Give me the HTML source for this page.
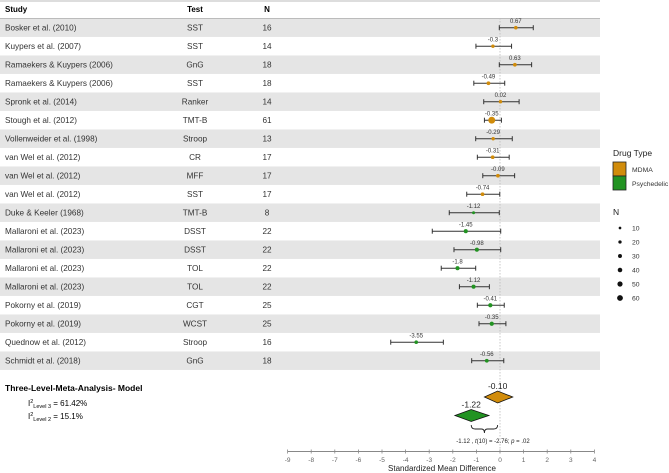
<!DOCTYPE html>
<html><head><meta charset="utf-8"><style>
html,body{margin:0;padding:0;background:#fff}
svg{display:block;font-family:"Liberation Sans",Arial,sans-serif}
</style></head><body>
<svg id="chart" width="669" height="473" viewBox="0 0 669 473">
<g id="bands"></g>
<line x1="0" y1="1" x2="600" y2="1" stroke="#bbb" stroke-width="1"/>
<line x1="0" y1="18.5" x2="600" y2="18.5" stroke="#bbb" stroke-width="1"/>
<text x="5" y="12" font-size="8" font-weight="bold">Study</text>
<text x="195" y="12" font-size="8" font-weight="bold" text-anchor="middle">Test</text>
<text x="267" y="12" font-size="8" font-weight="bold" text-anchor="middle">N</text>
<g id="rows"></g>
<line id="zeroline" y1="18" y2="450" stroke="#bbb" stroke-width="0.8" stroke-dasharray="1.5,1.5"/>
<g id="marks"></g>
<g id="axis"></g>
<text x="442" y="471" font-size="8" text-anchor="middle" fill="#222">Standardized Mean Difference</text>
<text x="5" y="391" font-size="8.5" font-weight="bold">Three-Level-Meta-Analysis- Model</text>
<text x="28" y="406" font-size="8">I<tspan dy="-3" font-size="5.5">2</tspan><tspan dy="5" font-size="5.5">Level 3</tspan><tspan dy="-2"> = 61.42%</tspan></text>
<text x="28" y="419" font-size="8">I<tspan dy="-3" font-size="5.5">2</tspan><tspan dy="5" font-size="5.5">Level 2</tspan><tspan dy="-2"> = 15.1%</tspan></text>
<g id="pooled"></g>
<text x="613" y="156" font-size="8.5" fill="#222">Drug Type</text>
<rect x="613" y="162" width="13" height="14" fill="#D18C0B" stroke="#222" stroke-width="0.8"/>
<rect x="613" y="176" width="13" height="14" fill="#229322" stroke="#222" stroke-width="0.8"/>
<text x="632" y="172" font-size="6.8" fill="#333">MDMA</text>
<text x="632" y="186" font-size="6.8" fill="#333">Psychedelic</text>
<text x="613" y="215" font-size="8.5" fill="#222">N</text>
<g id="nlegend"></g>
</svg>
<script>
const studies=["Bosker et al. (2010)","Kuypers et al. (2007)","Ramaekers & Kuypers (2006)","Ramaekers & Kuypers (2006)","Spronk et al. (2014)","Stough et al. (2012)","Vollenweider et al. (1998)","van Wel et al. (2012)","van Wel et al. (2012)","van Wel et al. (2012)","Duke & Keeler (1968)","Mallaroni et al. (2023)","Mallaroni et al. (2023)","Mallaroni et al. (2023)","Mallaroni et al. (2023)","Pokorny et al. (2019)","Pokorny et al. (2019)","Quednow et al. (2012)","Schmidt et al. (2018)"];
const tests=["SST","SST","GnG","SST","Ranker","TMT-B","Stroop","CR","MFF","SST","TMT-B","DSST","DSST","TOL","TOL","CGT","WCST","Stroop","GnG"];
const ns=[16,14,18,18,14,61,13,17,17,17,8,22,22,22,22,25,25,16,18];
const smd=[0.67,-0.3,0.63,-0.49,0.02,-0.35,-0.29,-0.31,-0.09,-0.74,-1.12,-1.45,-0.98,-1.8,-1.12,-0.41,-0.35,-3.55,-0.56];
const ciLow=[-0.03,-1.02,-0.03,-1.11,-0.69,-0.66,-1.03,-0.96,-0.73,-1.41,-2.15,-2.87,-1.95,-2.49,-1.72,-0.96,-0.89,-4.63,-1.2];
const ciHigh=[1.41,0.49,1.34,0.2,0.81,0.06,0.52,0.39,0.62,-0.01,-0.03,0.03,0.03,-1.03,-0.45,0.18,0.25,-2.4,0.16];
const drug=["MDMA","MDMA","MDMA","MDMA","MDMA","MDMA","MDMA","MDMA","MDMA","MDMA","Psychedelic","Psychedelic","Psychedelic","Psychedelic","Psychedelic","Psychedelic","Psychedelic","Psychedelic","Psychedelic"];
const pooledGroups=["MDMA","Psychedelic"];
const pooledEst=[-0.10,-1.22];
const pooledLow=[-0.66,-1.91];
const pooledHigh=[0.54,-0.47];
const xTicks=[-9,-8,-7,-6,-5,-4,-3,-2,-1,0,1,2,3,4];
const nLegend=[10,20,30,40,50,60];

const NS="http://www.w3.org/2000/svg";
const colors={MDMA:"#D18C0B",Psychedelic:"#229322"};
const x=v=>500+(v)*23.6;
const rowY=i=>27.7+i*18.5;
const r=n=>1.2+0.037*n;
function mk(tag,attrs,parent,txt){const e=document.createElementNS(NS,tag);for(const k in attrs)e.setAttribute(k,attrs[k]);if(txt!==undefined)e.textContent=txt;parent.appendChild(e);return e;}
const bands=document.getElementById('bands'),rows=document.getElementById('rows'),marks=document.getElementById('marks'),axis=document.getElementById('axis'),pooled=document.getElementById('pooled'),nleg=document.getElementById('nlegend');
document.getElementById('zeroline').setAttribute('x1',x(0));
document.getElementById('zeroline').setAttribute('x2',x(0));
studies.forEach((s,i)=>{
  const y=rowY(i);
  if(i%2===0){const b=mk('rect',{x:0,y:y-9.25,width:600,height:18.5,fill:'#e5e5e5'},bands);
    
    }
  const t1=mk('text',{x:5,y:y+3,'font-size':8.2,fill:'#333'},rows,s);
  
  
  const t2=mk('text',{x:195,y:y+3,'font-size':8.2,fill:'#333','text-anchor':'middle'},rows,tests[i]);
  
  
  const t3=mk('text',{x:267,y:y+3,'font-size':8.2,fill:'#333','text-anchor':'middle'},rows,ns[i]);
  
  
  const g=mk('g',{},marks);
  
  
  mk('line',{x1:x(ciLow[i]),x2:x(ciHigh[i]),y1:y,y2:y,stroke:'#333','stroke-width':1},g);
  mk('line',{x1:x(ciLow[i]),x2:x(ciLow[i]),y1:y-2.5,y2:y+2.5,stroke:'#333','stroke-width':1},g);
  mk('line',{x1:x(ciHigh[i]),x2:x(ciHigh[i]),y1:y-2.5,y2:y+2.5,stroke:'#333','stroke-width':1},g);
  mk('circle',{cx:x(smd[i]),cy:y,r:r(ns[i]),fill:colors[drug[i]]},g);
  mk('text',{x:x(smd[i]),y:y-4.5,'font-size':6,fill:'#333','text-anchor':'middle'},g,String(smd[i]));
});
mk('line',{x1:x(xTicks[0]),x2:x(xTicks[xTicks.length-1]),y1:451.5,y2:451.5,stroke:'#888','stroke-width':1},axis);
xTicks.forEach(v=>{
  mk('line',{x1:x(v),x2:x(v),y1:449.5,y2:453.5,stroke:'#888','stroke-width':0.8},axis);
  const t=mk('text',{x:x(v),y:462,'font-size':6.5,fill:'#666','text-anchor':'middle'},axis,String(v));
  
  
});
const pY=[397,415.5];
pooledGroups.forEach((gname,i)=>{
  const y=pY[i];
  const d=mk('polygon',{points:`${x(pooledLow[i])},${y} ${x(pooledEst[i])},${y-6} ${x(pooledHigh[i])},${y} ${x(pooledEst[i])},${y+6}`,fill:colors[gname],stroke:'#111','stroke-width':0.8},pooled);
  
  
  const t=mk('text',{x:x(pooledEst[i]),y:y-8,'font-size':8.5,fill:'#222','text-anchor':'middle'},pooled,pooledEst[i].toFixed(2));
  
  
});
const bx1=x(pooledEst[1]),bx2=x(pooledEst[0]),bm=(bx1+bx2)/2;
const br=mk('path',{d:`M${bx1},425 Q${bx1},429 ${bx1+4},429 L${bm-3},429 Q${bm},429 ${bm},433 Q${bm},429 ${bm+3},429 L${bx2-4},429 Q${bx2},429 ${bx2},425`,fill:'none',stroke:'#222','stroke-width':0.9},pooled);


const dt=mk('text',{x:493,y:443,'font-size':6,fill:'#222','text-anchor':'middle'},pooled);


dt.innerHTML='-1.12 , <tspan font-style="italic">t</tspan>(10) = -2.76; <tspan font-style="italic">p</tspan> = .02';
nLegend.forEach((n,i)=>{
  const y=228+i*14;
  const c=mk('circle',{cx:620,cy:y,r:r(n)*0.85,fill:'#111'},nleg);
  
  
  const t=mk('text',{x:632,y:y+2.4,'font-size':6.8,fill:'#333'},nleg,String(n));
  
  
});
</script>
</body></html>
